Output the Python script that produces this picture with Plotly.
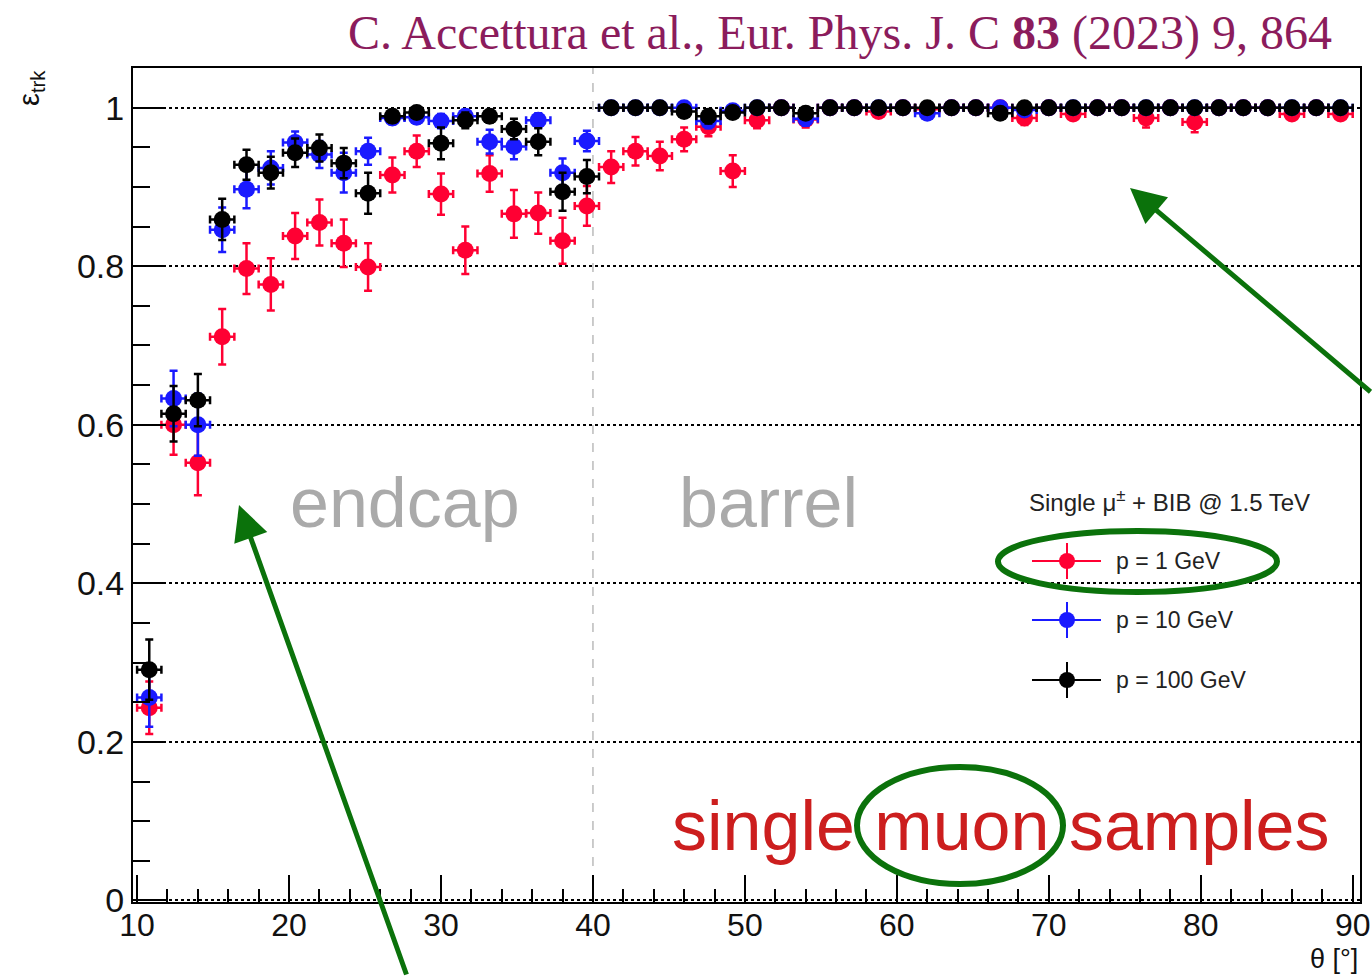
import plotly.graph_objects as go

# ---------------- data ----------------
bin_width = 1.6
theta_min = 10.0
n_bins = 50
theta = [round(theta_min + bin_width * (i + 0.5), 2) for i in range(n_bins)]
theta_half = [bin_width / 2] * n_bins

eff_p1 = [0.243, 0.600, 0.552, 0.711, 0.797, 0.777, 0.838, 0.855, 0.829, 0.799,
          0.915, 0.945, 0.891, 0.820, 0.917, 0.866, 0.867, 0.832, 0.876, 0.925,
          0.945, 0.939, 0.960, 0.976, 0.920, 0.984, 1.000, 0.985, 1.000, 1.000,
          0.995, 1.000, 0.998, 1.000, 1.000, 1.000, 0.987, 1.000, 0.992, 1.000,
          1.000, 0.987, 1.000, 0.982, 1.000, 1.000, 1.000, 0.992, 1.000, 0.992]
err_p1 = [0.033, 0.038, 0.041, 0.035, 0.032, 0.033, 0.029, 0.029, 0.030, 0.030,
          0.022, 0.020, 0.026, 0.030, 0.023, 0.030, 0.026, 0.029, 0.025, 0.020,
          0.018, 0.018, 0.015, 0.012, 0.020, 0.010, 0.002, 0.010, 0.002, 0.002,
          0.005, 0.002, 0.003, 0.002, 0.002, 0.002, 0.009, 0.002, 0.007, 0.002,
          0.002, 0.012, 0.002, 0.013, 0.002, 0.002, 0.002, 0.007, 0.002, 0.007]

eff_p10 = [0.256, 0.633, 0.600, 0.846, 0.897, 0.924, 0.956, 0.941, 0.918, 0.945,
           0.987, 0.988, 0.983, 0.989, 0.957, 0.951, 0.984, 0.918, 0.958, 1.000,
           1.000, 1.000, 1.000, 0.983, 0.996, 1.000, 1.000, 0.986, 1.000, 1.000,
           1.000, 1.000, 0.993, 1.000, 1.000, 1.000, 0.997, 1.000, 1.000, 1.000,
           1.000, 1.000, 1.000, 1.000, 1.000, 1.000, 1.000, 1.000, 1.000, 1.000]
err_p10 = [0.037, 0.035, 0.039, 0.028, 0.024, 0.021, 0.014, 0.017, 0.025, 0.017,
           0.008, 0.008, 0.009, 0.008, 0.015, 0.016, 0.009, 0.018, 0.013, 0.002,
           0.002, 0.002, 0.003, 0.009, 0.004, 0.002, 0.002, 0.009, 0.002, 0.002,
           0.002, 0.002, 0.006, 0.002, 0.002, 0.002, 0.004, 0.002, 0.002, 0.002,
           0.002, 0.002, 0.002, 0.002, 0.002, 0.002, 0.002, 0.002, 0.002, 0.002]

eff_p100 = [0.291, 0.614, 0.631, 0.859, 0.928, 0.918, 0.943, 0.949, 0.930, 0.892,
            0.989, 0.994, 0.955, 0.984, 0.989, 0.973, 0.957, 0.894, 0.913, 1.000,
            1.000, 1.000, 0.995, 0.989, 0.994, 1.000, 1.000, 0.993, 1.000, 1.000,
            1.000, 1.000, 1.000, 1.000, 1.000, 0.993, 1.000, 1.000, 1.000, 1.000,
            1.000, 1.000, 1.000, 1.000, 1.000, 1.000, 1.000, 1.000, 1.000, 1.000]
err_p100 = [0.038, 0.035, 0.033, 0.026, 0.019, 0.020, 0.018, 0.017, 0.019, 0.026,
            0.008, 0.006, 0.020, 0.010, 0.008, 0.013, 0.017, 0.024, 0.021, 0.002,
            0.002, 0.002, 0.005, 0.009, 0.006, 0.002, 0.002, 0.007, 0.002, 0.002,
            0.002, 0.002, 0.002, 0.002, 0.002, 0.006, 0.002, 0.002, 0.002, 0.002,
            0.002, 0.002, 0.002, 0.002, 0.002, 0.002, 0.002, 0.002, 0.002, 0.002]

series_names = ["p = 1 GeV", "p = 10 GeV", "p = 100 GeV"]
series_colors = ["#FF0033", "#1A1AFF", "#000000"]
barrel_boundary = 40

# ---------------- figure ----------------
W, H = 1372, 976
L, R, T, B = 133, 12, 68, 74
PW, PH = W - L - R, H - T - B


def px(x):
    return (x - L) / PW


def py(y):
    return (H - B - y) / PH


fig = go.Figure()
for ys, es, name, col in zip([eff_p1, eff_p10, eff_p100], [err_p1, err_p10, err_p100],
                             series_names, series_colors):
    fig.add_trace(go.Scatter(
        x=theta, y=ys, mode="markers", name=name, showlegend=False,
        marker=dict(color=col, size=17, line=dict(width=0)),
        error_y=dict(type="data", array=es, color=col, thickness=2.5, width=4),
        error_x=dict(type="data", array=theta_half, color=col, thickness=2.5, width=4),
    ))

fig.add_shape(type="line", xref="x", yref="paper", x0=barrel_boundary, x1=barrel_boundary,
              y0=0, y1=1, line=dict(color="#BBBBBB", width=1.5, dash="dash"), layer="below")

green = "#0B720B"
annotations = [
    dict(text="C. Accettura et al., Eur. Phys. J. C <b>83</b> (2023) 9, 864",
         x=px(1334), y=py(33), xanchor="right", yanchor="middle",
         font=dict(family="Liberation Serif", size=48, color="#8B1C5C")),
    dict(text="ε<sub>trk</sub>", x=px(31), y=py(88), textangle=-90,
         xanchor="center", yanchor="middle",
         font=dict(family="Liberation Sans", size=29, color="#111")),
    dict(text="θ [°]", x=px(1360), y=py(959), xanchor="right", yanchor="middle",
         font=dict(family="Liberation Sans", size=27, color="#111")),
    dict(text="endcap", x=px(405), y=py(503), xanchor="center", yanchor="middle",
         font=dict(family="Liberation Sans", size=70, color="#AAAAAA")),
    dict(text="barrel", x=px(768), y=py(503), xanchor="center", yanchor="middle",
         font=dict(family="Liberation Sans", size=70, color="#AAAAAA")),
    dict(text="single muon samples", x=px(1001), y=py(826), xanchor="center", yanchor="middle",
         font=dict(family="Liberation Sans", size=70, color="#CC1E1E")),
    dict(text="Single μ<sup>±</sup> + BIB @ 1.5 TeV", x=px(1027), y=py(501),
         xanchor="left", yanchor="middle",
         font=dict(family="Liberation Sans", size=24, color="#222")),
]
legend_y = [561, 620, 680]
for name, col, ly in zip(series_names, series_colors, legend_y):
    annotations.append(dict(text=name, x=px(1114), y=py(ly), xanchor="left", yanchor="middle",
                            font=dict(family="Liberation Sans", size=23, color="#222")))
    fig.add_shape(type="line", xref="paper", yref="paper", x0=px(1032), x1=px(1101),
                  y0=py(ly), y1=py(ly), line=dict(color=col, width=2))
    fig.add_shape(type="line", xref="paper", yref="paper", x0=px(1067), x1=px(1067),
                  y0=py(ly - 18), y1=py(ly + 18), line=dict(color=col, width=2))
    fig.add_shape(type="circle", xref="paper", yref="paper", x0=px(1059), x1=px(1075),
                  y0=py(ly + 8), y1=py(ly - 8), line=dict(width=0), fillcolor=col)

# arrows
annotations.append(dict(text="", x=px(1130), y=py(188), showarrow=True, axref="pixel", ayref="pixel",
                        ax=260, ay=205, arrowhead=2, arrowsize=1.4, arrowwidth=5, arrowcolor=green))
annotations.append(dict(text="", x=px(239), y=py(505), showarrow=True, axref="pixel", ayref="pixel",
                        ax=168, ay=485, arrowhead=2, arrowsize=1.4, arrowwidth=5, arrowcolor=green))
for a in annotations:
    a.setdefault("xref", "paper")
    a.setdefault("yref", "paper")
    a.setdefault("showarrow", False)

# ellipses
fig.add_shape(type="circle", xref="paper", yref="paper", x0=px(998), x1=px(1277),
              y0=py(592), y1=py(531), line=dict(color=green, width=6))
fig.add_shape(type="circle", xref="paper", yref="paper", x0=px(857), x1=px(1063),
              y0=py(884), y1=py(767), line=dict(color=green, width=6))

fig.update_layout(
    width=W, height=H, margin=dict(l=L, r=R, t=T, b=B, pad=0, autoexpand=False),
    paper_bgcolor="white", plot_bgcolor="white", showlegend=False,
    annotations=annotations,
    font=dict(family="Liberation Sans", color="#111"),
)
fig.update_xaxes(
    range=[9.73, 90.48], tick0=10, dtick=10, ticks="inside", ticklen=27, tickwidth=2,
    tickcolor="black", showline=True, linecolor="black", linewidth=2, mirror=True,
    automargin=False, ticklabelstandoff=-6,
    showgrid=False, zeroline=False, tickfont=dict(family="Liberation Sans", size=32, color="#111"),
    minor=dict(ticks="inside", dtick=2, ticklen=13, tickwidth=2, tickcolor="black", showgrid=False),
)
fig.update_yaxes(
    range=[-0.002, 1.05], tick0=0, dtick=0.2, ticks="inside", ticklen=33, tickwidth=2,
    tickcolor="black", showline=True, linecolor="black", linewidth=2, mirror=True,
    automargin=False,
    showgrid=True, gridcolor="black", griddash="dot", gridwidth=1.5, zeroline=False,
    tickfont=dict(family="Liberation Sans", size=34, color="#111"),
    minor=dict(ticks="inside", dtick=0.05, ticklen=17, tickwidth=2, tickcolor="black", showgrid=False),
)

fig.write_html("out.html", config={"displayModeBar": False},
               post_script="document.body.style.margin='0';document.body.style.overflow='hidden';")
